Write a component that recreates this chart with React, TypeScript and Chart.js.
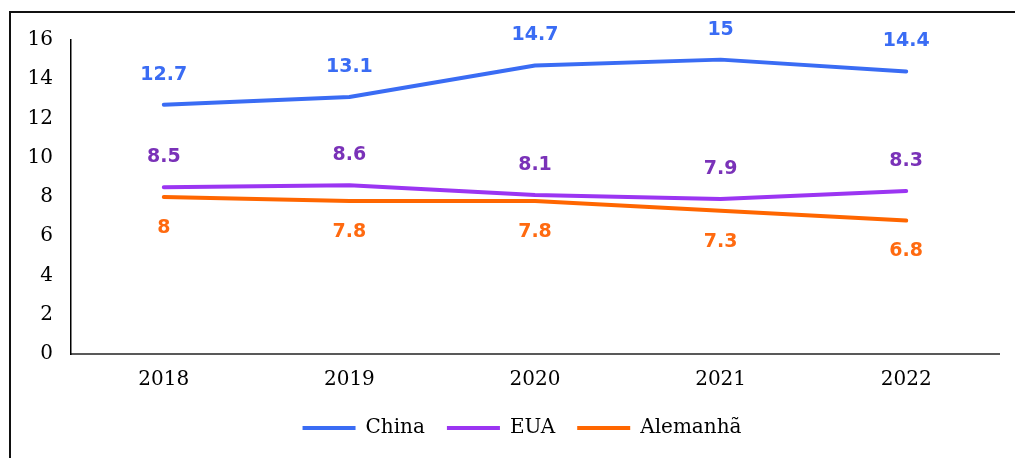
import React, { useEffect, useRef } from "react";
import { Chart, registerables } from "chart.js";

Chart.register(...registerables);

const years = ["2018", "2019", "2020", "2021", "2022"];
const china = [12.7, 13.1, 14.7, 15, 14.4];
const eua = [8.5, 8.6, 8.1, 7.9, 8.3];
const alemanha = [8, 7.8, 7.8, 7.3, 6.8];
const seriesNames = ["China", "EUA", "Alemanhã"];
const lineColors = ["#3a6cf4", "#9b35f2", "#ff6600"];
const labelColors = ["#3a6cf4", "#7a32b8", "#ff6a10"];
const labelOffsets = [-30, -30, 31];

const valueLabels = {
  id: "valueLabels",
  afterLayout(chart: any) {
    // let the y tick labels extend to the left of the narrow y scale box
    chart.scales.y.left = 0;
  },
  afterDatasetsDraw(chart: any) {
    const ctx = chart.ctx;
    ctx.save();
    ctx.font = "bold 19px 'DejaVu Sans'";
    ctx.textAlign = "center";
    ctx.textBaseline = "middle";
    chart.data.datasets.forEach((ds: any, i: number) => {
      const meta = chart.getDatasetMeta(i);
      meta.data.forEach((pt: any, j: number) => {
        ctx.fillStyle = labelColors[i];
        ctx.fillText(String(ds.data[j]), pt.x, pt.y + labelOffsets[i]);
      });
    });
    ctx.restore();
  },
};

export default function App() {
  const ref = useRef<HTMLCanvasElement>(null);
  useEffect(() => {
    const serif = "'DejaVu Serif'";
    const chart = new Chart(ref.current!, {
      type: "line",
      data: {
        labels: years,
        datasets: [china, eua, alemanha].map((d, i) => ({
          label: seriesNames[i],
          data: d,
          borderColor: lineColors[i],
          backgroundColor: lineColors[i],
          borderWidth: 4,
          borderCapStyle: "round",
          borderJoinStyle: "round",
          pointRadius: 0,
          tension: 0,
        })),
      },
      options: {
        animation: false,
        responsive: false,
        maintainAspectRatio: false,
        layout: { padding: { left: 45, right: 16, top: 40, bottom: 10 } },
        scales: {
          x: {
            offset: true,
            grid: { display: false, drawTicks: false },
            border: { display: true, color: "#595959", width: 2 },
            ticks: { color: "#000", font: { family: serif, size: 20 }, padding: 13.5 },
            afterFit: (s: any) => {
              s.height = 42;
            },
          },
          y: {
            min: 0,
            max: 16,
            grid: { display: false, drawTicks: false },
            border: { display: true, color: "#000", width: 1.5 },
            ticks: {
              stepSize: 2,
              color: "#000",
              font: { family: serif, size: 20 },
              padding: 18,
            },
            afterFit: (s: any) => {
              s.width = 26;
            },
          },
        },
        plugins: {
          tooltip: { enabled: false },
          legend: {
            position: "bottom",
            labels: {
              usePointStyle: true,
              pointStyle: "line",
              pointStyleWidth: 53,
              boxHeight: 20,
              padding: 22,
              color: "#000",
              font: { family: serif, size: 20 },
            },
          },
        },
      },
      plugins: [valueLabels],
    } as any);
    return () => chart.destroy();
  }, []);
  return (
    <div style={{ position: "fixed", left: 0, top: 0, width: 1015, height: 458, overflow: "hidden", background: "#fff" }}>
      <div
        style={{
          position: "absolute",
          left: 9,
          top: 11,
          width: 1040,
          height: 480,
          border: "2px solid #111",
        }}
      />
      <canvas ref={ref} width={1015} height={458} style={{ position: "absolute", left: 0, top: 0 }} />
    </div>
  );
}
